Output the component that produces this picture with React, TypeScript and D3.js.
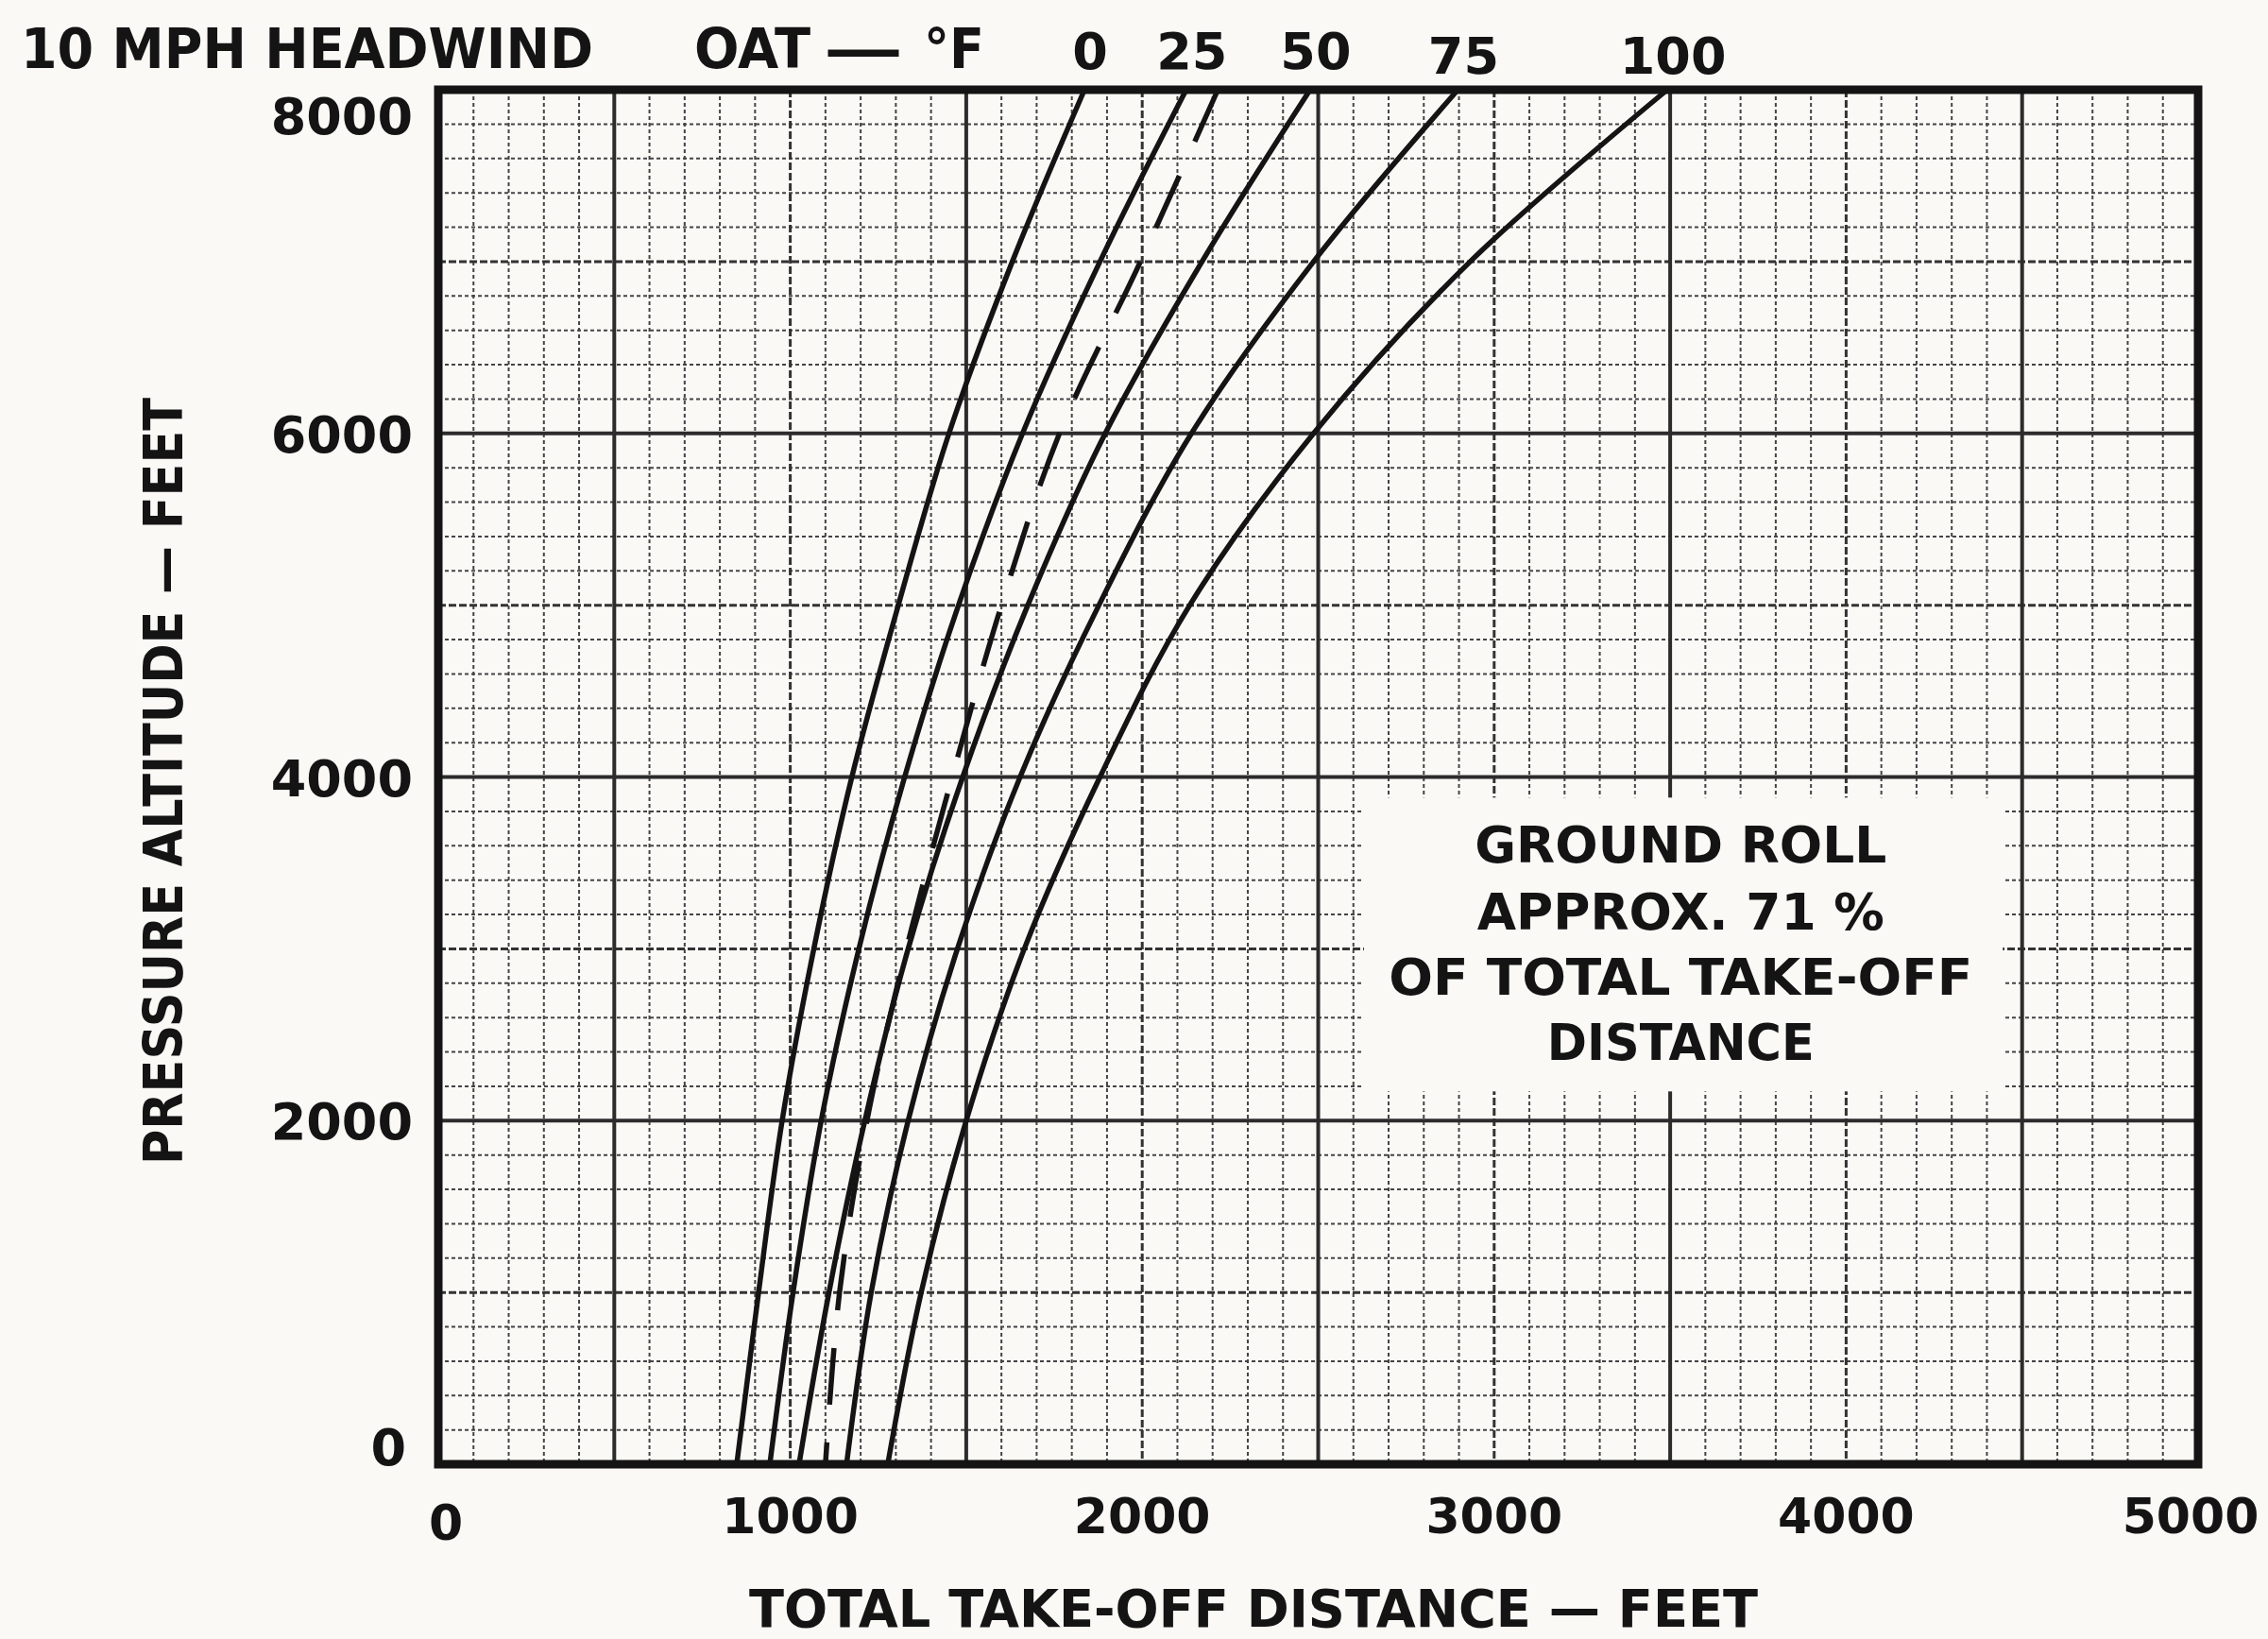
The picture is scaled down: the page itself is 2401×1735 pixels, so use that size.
import React, { useEffect } from "react";
import * as d3 from "d3";

// ---- data ----
const altitudes = [0, 1000, 2000, 3000, 4000, 5000, 6000, 7000, 8000];
const oatLabels = ["0", "25", "50", "75", "100"];
const dist0 = [848, 910, 977, 1067, 1175, 1307, 1451, 1631, 1836];
const dist25 = [942, 1008, 1088, 1195, 1325, 1478, 1660, 1880, 2125];
const dist50 = [1025, 1110, 1212, 1335, 1490, 1675, 1895, 2170, 2477];
const dist75 = [1160, 1230, 1335, 1475, 1653, 1877, 2140, 2487, 2897];
const dist100 = [1277, 1372, 1500, 1665, 1880, 2135, 2487, 2932, 3492];
const distStandard = [1100, 1140, 1218, 1330, 1460, 1600, 1765, 1995, 2215];
const xTickValues = [0, 1000, 2000, 3000, 4000, 5000];
const yTickValues = [0, 2000, 4000, 6000, 8000];
const noteLines = ["GROUND  ROLL", "APPROX.  71 %", "OF  TOTAL  TAKE-OFF", "DISTANCE"];

const W = 2401;
const H = 1735;
const BG = "#fbf9f6";
const INK = "#141414";
const FONT = "'DejaVu Sans', sans-serif";

export default function App() {
  useEffect(() => {
    document.body.style.margin = "0";
    document.body.style.overflow = "hidden";
    document.body.style.background = BG;
  }, []);

  const left = 464, right = 2327, top = 95, bottom = 1550;
  const x = d3.scaleLinear().domain([0, 5000]).range([left, right]);
  const y = d3.scaleLinear().domain([0, 8000]).range([bottom, top]);

  const solidSeries = [dist0, dist25, dist50, dist75, dist100];

  const line = d3
    .line<[number, number]>()
    .x((d) => x(d[0]))
    .y((d) => y(d[1]))
    .curve(d3.curveCatmullRom.alpha(0.5));

  // draw from the top (8000 ft) down so the dash pattern starts at the top border
  const pathFor = (vals: number[]) =>
    line(vals.map((v, i) => [v, altitudes[i]] as [number, number]).reverse()) || "";

  // grid
  const xMinor = d3.range(100, 5000, 100).filter((v) => v % 500 !== 0);
  const xMedium = d3.range(1000, 5000, 1000);
  const xThick = d3.range(500, 5000, 1000);
  const yMinor = d3.range(200, 8000, 200).filter((v) => v % 1000 !== 0);
  const yMedium = d3.range(1000, 8000, 2000);
  const yThick = d3.range(2000, 8000, 2000);

  // note box (in data units)
  const boxX0 = 2630, boxX1 = 4445, boxY0 = 2170, boxY1 = 3880;
  const noteCx = x(3530);
  const noteBaselines = [913, 984, 1053, 1122];
  const noteLengths = [436, 431, 618, 283];

  return (
    <div style={{ position: "absolute", left: 0, top: 0, width: W, height: H, background: BG }}>
      <svg width={W} height={H} viewBox={`0 0 ${W} ${H}`} style={{ display: "block" }}>
        <rect x={0} y={0} width={W} height={H} fill={BG} />

        {/* minor grid */}
        <g stroke="#444" strokeWidth={2} strokeDasharray="4,3">
          {xMinor.map((v) => (
            <line key={"xm" + v} x1={x(v)} x2={x(v)} y1={top} y2={bottom} />
          ))}
          {yMinor.map((v) => (
            <line key={"ym" + v} x1={left} x2={right} y1={y(v)} y2={y(v)} />
          ))}
        </g>
        {/* medium grid */}
        <g stroke="#333" strokeWidth={3} strokeDasharray="8,3">
          {xMedium.map((v) => (
            <line key={"xM" + v} x1={x(v)} x2={x(v)} y1={top} y2={bottom} />
          ))}
          {yMedium.map((v) => (
            <line key={"yM" + v} x1={left} x2={right} y1={y(v)} y2={y(v)} />
          ))}
        </g>
        {/* heavy grid */}
        <g stroke="#2c2c2c" strokeWidth={4}>
          {xThick.map((v) => (
            <line key={"xT" + v} x1={x(v)} x2={x(v)} y1={top} y2={bottom} />
          ))}
          {yThick.map((v) => (
            <line key={"yT" + v} x1={left} x2={right} y1={y(v)} y2={y(v)} />
          ))}
        </g>

        {/* note box */}
        <rect
          x={x(boxX0)}
          y={y(boxY1)}
          width={x(boxX1) - x(boxX0)}
          height={y(boxY0) - y(boxY1)}
          fill={BG}
        />
        <g fontFamily={FONT} fontWeight="bold" fontSize={53} fill={INK} textAnchor="middle">
          {noteLines.map((t, i) => (
            <text
              key={t}
              x={noteCx}
              y={noteBaselines[i]}
              textLength={noteLengths[i]}
              lengthAdjust="spacingAndGlyphs"
            >
              {t}
            </text>
          ))}
        </g>

        {/* curves */}
        <g fill="none" stroke={INK} strokeWidth={5.5} strokeLinecap="butt">
          {solidSeries.map((s, i) => (
            <path key={"c" + i} d={pathFor(s)} />
          ))}
          <path d={pathFor(distStandard)} strokeDasharray="60,40" />
        </g>

        {/* frame */}
        <rect
          x={left}
          y={top}
          width={right - left}
          height={bottom - top}
          fill="none"
          stroke={INK}
          strokeWidth={9}
        />

        {/* y tick labels */}
        <g fontFamily={FONT} fontWeight="bold" fontSize={54} fill={INK} textAnchor="end">
          {yTickValues.map((v, i) => {
            let baseline = y(v) + 20;
            if (i === 0) baseline = y(v) + 1;
            if (i === yTickValues.length - 1) baseline = y(v) + 47;
            return (
              <text key={"yl" + v} x={i === 0 ? 430 : 437} y={baseline}>
                {String(v)}
              </text>
            );
          })}
        </g>

        {/* x tick labels */}
        <g fontFamily={FONT} fontWeight="bold" fontSize={52} fill={INK} textAnchor="middle">
          {xTickValues.map((v, i) => (
            <text
              key={"xl" + v}
              x={i === 0 ? x(v) + 8 : i === xTickValues.length - 1 ? x(v) - 8 : x(v)}
              y={i === 0 ? 1630 : 1623}
            >
              {String(v)}
            </text>
          ))}
        </g>

        {/* header */}
        <g fontFamily={FONT} fontWeight="bold" fill={INK}>
          <text x={22} y={72} fontSize={58} textLength={606} lengthAdjust="spacingAndGlyphs">
            10  MPH  HEADWIND
          </text>
          <text x={735} y={72} fontSize={58} textLength={123} lengthAdjust="spacingAndGlyphs">
            OAT
          </text>
          <text x={872} y={72} fontSize={58} textLength={84} lengthAdjust="spacingAndGlyphs">
            —
          </text>
          <text x={978} y={72} fontSize={58} textLength={64} lengthAdjust="spacingAndGlyphs">
            °F
          </text>
        </g>

        {/* OAT curve labels at the curve tops */}
        <g fontFamily={FONT} fontWeight="bold" fontSize={54} fill={INK} textAnchor="middle">
          {solidSeries.map((s, i) => (
            <text key={"oat" + i} x={x(s[s.length - 1]) + 6} y={i < 3 ? 73 : 78}>
              {oatLabels[i]}
            </text>
          ))}
        </g>

        {/* axis titles */}
        <text
          x={(793 + 1861) / 2}
          y={1722}
          fontFamily={FONT}
          fontWeight="bold"
          fontSize={56}
          fill={INK}
          textAnchor="middle"
          textLength={1068}
          lengthAdjust="spacingAndGlyphs"
        >
          TOTAL  TAKE-OFF  DISTANCE — FEET
        </text>
        <text
          transform={`translate(193, 827) rotate(-90)`}
          fontFamily={FONT}
          fontWeight="bold"
          fontSize={57}
          fill={INK}
          textAnchor="middle"
          textLength={812}
          lengthAdjust="spacingAndGlyphs"
        >
          PRESSURE  ALTITUDE — FEET
        </text>
      </svg>
    </div>
  );
}
